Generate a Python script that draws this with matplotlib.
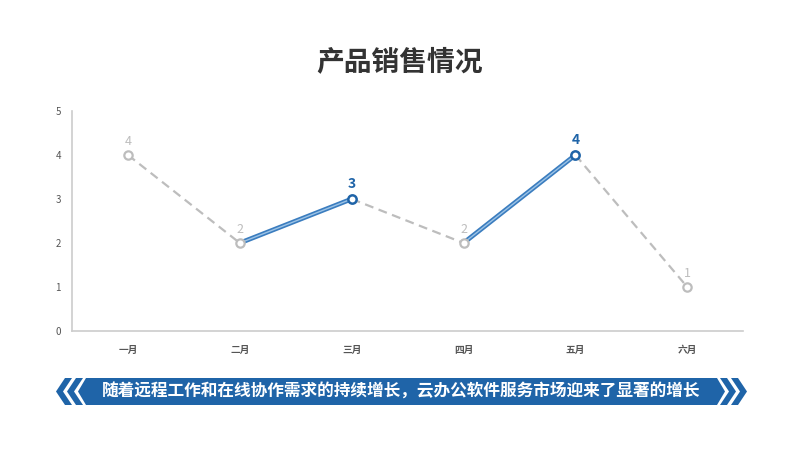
import matplotlib.pyplot as plt
from matplotlib.patches import Polygon

plt.rcParams['font.family'] = ['Noto Sans CJK SC', 'DejaVu Sans']

months = ['一月', '二月', '三月', '四月', '五月', '六月']
sales = [4, 2, 3, 2, 4, 1]
highlight = [2, 4]          # indices of points shown in blue (三月, 五月)
blue_segs = [(1, 2), (3, 4)]  # segments drawn as solid blue
title = '产品销售情况'
banner = '随着远程工作和在线协作需求的持续增长，云办公软件服务市场迎来了显著的增长'

blue = '#1f64a8'
gray = '#bdbdbd'

fig = plt.figure(figsize=(8, 4.5), dpi=100)
ax = fig.add_axes([0.09, 0.2644, 0.839, 0.489])
x = list(range(len(months)))

# gray dashed segments
for i in range(len(sales) - 1):
    if (i, i + 1) in blue_segs:
        continue
    ax.plot(x[i:i + 2], sales[i:i + 2], color=gray, lw=1.6, ls=(0, (4, 2.5)), zorder=2)
# blue solid segments (two-tone)
for a, b in blue_segs:
    ax.plot([a, b], [sales[a], sales[b]], color='#3b7dbf', lw=3.4, solid_capstyle='butt', zorder=3)
    ax.plot([a, b], [sales[a], sales[b]], color='#9cc3e6', lw=1.0, solid_capstyle='butt', zorder=4)

for i, v in enumerate(sales):
    if i in highlight:
        ax.plot(i, v, 'o', ms=6, mfc='white', mec=blue, mew=1.8, zorder=5)
        ax.annotate(str(v), (i, v), xytext=(0, 6), textcoords='offset points',
                    ha='center', va='bottom', color=blue, fontsize=10, fontweight='bold')
    else:
        ax.plot(i, v, 'o', ms=6, mfc='white', mec=gray, mew=1.6, zorder=5)
        ax.annotate(str(v), (i, v), xytext=(0, 5), textcoords='offset points',
                    ha='center', va='bottom', color=gray, fontsize=9)

ax.set_xlim(-0.5, len(months) - 0.5)
ax.set_ylim(0, 5)
ax.set_xticks(x)
ax.set_xticklabels(months, fontsize=7, color='#555555', fontweight='bold')
ax.set_yticks(range(6))
ax.set_yticklabels([str(t) for t in range(6)], fontsize=7, color='#555555')
ax.tick_params(length=0)
ax.tick_params(axis='x', pad=10)
ax.tick_params(axis='y', pad=8)
for s in ['top', 'right']:
    ax.spines[s].set_visible(False)
for s in ['left', 'bottom']:
    ax.spines[s].set_color('#cccccc')
    ax.spines[s].set_linewidth(1.2)

fig.text(0.5, 0.862, title, ha='center', va='center', fontsize=20,
         fontweight='bold', color='#333333')

# banner decoration in pixel coords
deco = fig.add_axes([0, 0, 1, 1], zorder=-1)
deco.set_xlim(0, 800)
deco.set_ylim(450, 0)
deco.axis('off')
top, mid, bot = 378, 391.5, 405
body = [(86, top), (717, top), (725, mid), (717, bot), (86, bot), (78, mid)]
deco.add_patch(Polygon(body, closed=True, color=blue, lw=0))
for tip in (56, 67):
    deco.add_patch(Polygon([(tip + 9, top), (tip + 16, top), (tip + 7, mid),
                            (tip + 16, bot), (tip + 9, bot), (tip, mid)],
                           closed=True, color=blue, lw=0))
for tip in (736, 747):
    deco.add_patch(Polygon([(tip - 9, top), (tip - 16, top), (tip - 7, mid),
                            (tip - 16, bot), (tip - 9, bot), (tip, mid)],
                           closed=True, color=blue, lw=0))
deco.text(401, mid, banner, ha='center', va='center', color='white',
          fontsize=12, fontweight='bold')

fig.savefig('out.png', dpi=100)
